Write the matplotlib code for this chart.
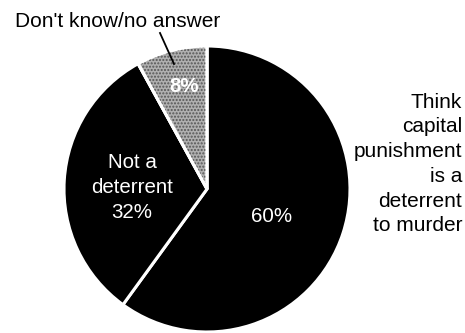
import matplotlib.pyplot as plt
from matplotlib.patches import Wedge

plt.rcParams['font.family'] = ['Liberation Sans', 'DejaVu Sans']

shares = [60, 32, 8]
names = ["Think capital punishment is a deterrent to murder",
         "Not a deterrent", "Don't know/no answer"]
colors = ['black', 'black', '#b0b0b0']

cx, cy, r = 207, 189, 143

fig = plt.figure(figsize=(4.65, 3.33), dpi=100)
ax = fig.add_axes([0, 0, 1, 1])
ax.set_xlim(0, 465)
ax.set_ylim(333, 0)

# y axis runs downward, so clockwise from the top is counterclock=True at -90
wedges, _ = ax.pie(shares, colors=colors, startangle=-90, counterclock=True,
                   center=(cx, cy), radius=r,
                   wedgeprops=dict(edgecolor='white', linewidth=2.2))

# stipple over the undecided slice
w = wedges[2]
ax.add_patch(Wedge(w.center, w.r, w.theta1, w.theta2, facecolor='none',
                   edgecolor='#555555', hatch='.....', linewidth=0, zorder=w.zorder + 0.1))
ax.add_patch(Wedge(w.center, w.r, w.theta1, w.theta2, facecolor='none',
                   edgecolor='white', linewidth=2.2, zorder=w.zorder + 0.2))

ax.set_xlim(0, 465)
ax.set_ylim(333, 0)
ax.set_aspect('equal')
ax.axis('off')

fs = 14.8
ax.text(272, 222, f"{shares[0]}%", color='white', fontsize=fs, ha='center', va='baseline')
ax.text(132, 187.5, f"Not a\ndeterrent\n{shares[1]}%", color='white', fontsize=fs,
        ha='center', va='center', linespacing=1.38)
ax.text(184, 92, f"{shares[2]}%", color='white', fontsize=fs, ha='center', va='baseline',
        fontweight='bold', zorder=10)
ax.text(118, 27, "Don't know/no answer", fontsize=15, ha='center', va='baseline')
ax.plot([160, 174], [33, 64], color='black', linewidth=1.3, zorder=10)
ax.text(462, 164, "Think\ncapital\npunishment\nis a\ndeterrent\nto murder", fontsize=15,
        ha='right', va='center', linespacing=1.38)

fig.savefig('out.png', dpi=100)
